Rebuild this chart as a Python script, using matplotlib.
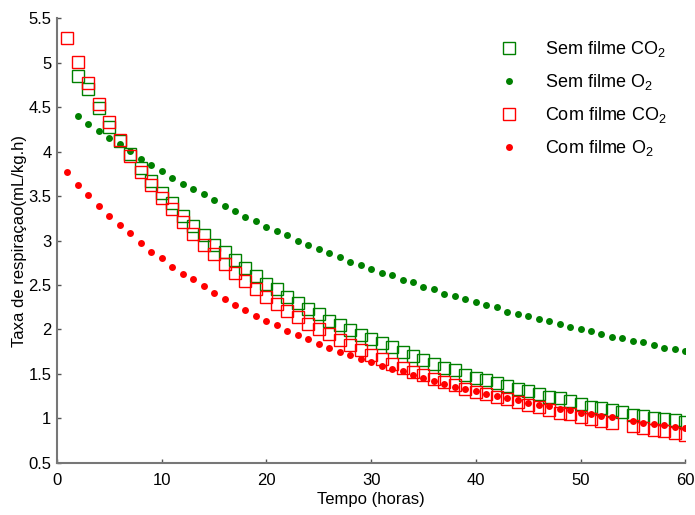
import numpy as np
import matplotlib
matplotlib.use("Agg")
import matplotlib.pyplot as plt

plt.rcParams['font.family'] = ['Liberation Sans', 'DejaVu Sans']
plt.rcParams['mathtext.default'] = 'regular'

nan = np.nan
hours_sem = list(range(2, 61))
hours_com = list(range(1, 61))

sem_co2 = [4.85, 4.70, 4.485, 4.28, 4.115, 3.97, 3.818, 3.667, 3.537, 3.418,
           3.28, 3.167, 3.06, 2.955, 2.87, 2.78, 2.69, 2.605, 2.51, 2.45,
           2.37, 2.295, 2.23, 2.17, 2.10, 2.047, 1.994, 1.94, 1.89, 1.845,
           1.80, 1.75, 1.706, 1.655, 1.616, 1.572, 1.54, 1.49, 1.458, 1.43,
           1.40, 1.365, 1.33, 1.306, 1.275, 1.24, 1.23, 1.197, 1.163, 1.133,
           1.118, 1.10, 1.073, 1.04, 1.028, 1.01, 0.994, 0.98, 0.96]

sem_o2 = [4.40, 4.31, 4.23, 4.155, 4.084, 4.006, 3.92, 3.85, 3.78, 3.705,
          3.64, 3.58, 3.52, 3.455, 3.39, 3.33, 3.264, 3.216, 3.155, 3.107,
          3.06, 3.00, 2.953, 2.904, 2.856, 2.815, 2.762, 2.73, 2.683, 2.638,
          2.608, 2.56, 2.53, 2.48, 2.452, 2.40, 2.373, 2.343, 2.31, 2.28,
          2.25, 2.20, 2.17, 2.155, 2.12, 2.09, 2.06, 2.03, 2.00, 1.98,
          1.95, 1.92, 1.905, 1.875, 1.856, 1.826, 1.796, 1.78, 1.76]

com_co2 = [5.27, 5.006, 4.77, 4.53, 4.33, 4.13, 3.95, 3.77, 3.62, 3.48,
           3.35, 3.21, 3.07, 2.95, 2.845, 2.74, 2.635, 2.54, 2.46, 2.365,
           2.287, 2.21, 2.14, 2.065, 2.00, 1.946, 1.88, 1.822, 1.77, 1.717,
           1.665, 1.616, 1.57, 1.52, 1.485, 1.447, 1.41, 1.373, 1.335, 1.298,
           1.275, 1.24, 1.216, 1.185, 1.155, 1.133, 1.096, 1.066, 1.045, 1.013,
           0.99, 0.97, 0.953, nan, 0.916, 0.897, 0.874, 0.856, 0.833, 0.818]

com_o2 = [3.766, 3.624, 3.515, 3.39, 3.28, 3.17, 3.08, 2.97, 2.874, 2.80,
          2.70, 2.624, 2.564, 2.485, 2.407, 2.343, 2.28, 2.216, 2.155, 2.09,
          2.047, 1.983, 1.935, 1.89, 1.84, 1.795, 1.747, 1.717, 1.672, 1.64,
          1.593, 1.56, 1.53, 1.485, 1.455, 1.42, 1.39, 1.357, 1.328, 1.313,
          1.28, 1.25, 1.234, 1.205, 1.174, 1.155, 1.14, 1.11, 1.096, 1.066,
          1.047, 1.03, 1.017, nan, 0.97, 0.953, 0.94, 0.924, 0.905, 0.89]

labels = ['Sem filme CO$_2$', 'Sem filme O$_2$', 'Com filme CO$_2$', 'Com filme O$_2$']
x_ticks = [0, 10, 20, 30, 40, 50, 60]
y_ticks = [0.5, 1, 1.5, 2, 2.5, 3, 3.5, 4, 4.5, 5, 5.5]
y_ticklabels = ['0.5', '1', '1.5', '2', '2.5', '3', '3.5', '4', '4.5', '5', '5.5']

green = '#008000'
red = '#ff0000'

fig = plt.figure(figsize=(6.95, 5.15), dpi=100)
ax = fig.add_axes([0.082, 0.101, 0.904, 0.864])

ax.plot(hours_sem, sem_co2, linestyle='none', marker='s', markersize=8.5,
        markerfacecolor='none', markeredgecolor=green, markeredgewidth=1.0, label=labels[0])
ax.plot(hours_sem, sem_o2, linestyle='none', marker='o', markersize=5,
        color=green, markeredgewidth=0, label=labels[1])
ax.plot(hours_com, com_co2, linestyle='none', marker='s', markersize=8.5,
        markerfacecolor='none', markeredgecolor=red, markeredgewidth=1.0, label=labels[2])
ax.plot(hours_com, com_o2, linestyle='none', marker='o', markersize=5,
        color=red, markeredgewidth=0, label=labels[3])

ax.set_xlim(0, 60)
ax.set_ylim(0.5, 5.5)
ax.set_xticks(x_ticks)
ax.set_yticks(y_ticks)
ax.set_yticklabels(y_ticklabels)
ax.tick_params(direction='in', length=3, width=1, colors='#555555', labelcolor='black', labelsize=12)
ax.tick_params(axis='x', pad=7)
ax.tick_params(axis='y', pad=4)
for s in ['top', 'right']:
    ax.spines[s].set_visible(False)
for s in ['left', 'bottom']:
    ax.spines[s].set_color('#777777')
    ax.spines[s].set_linewidth(1.5)

ax.set_xlabel('Tempo (horas)', fontsize=12, labelpad=3)
ax.set_ylabel('Taxa de respiraçao(mL/kg.h)', fontsize=12, labelpad=1)

leg = ax.legend(loc='upper left', bbox_to_anchor=(0.69, 0.955), bbox_transform=fig.transFigure,
                frameon=False, fontsize=13, handletextpad=1.25, labelspacing=0.72,
                handlelength=1.5, markerscale=1.0)

fig.savefig('out.png', dpi=100)
